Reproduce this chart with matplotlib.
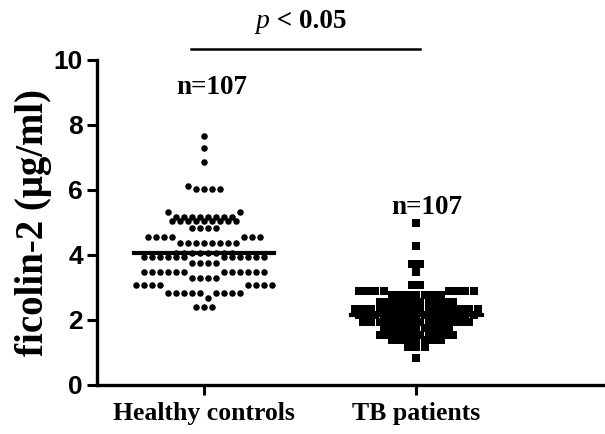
import numpy as np
import matplotlib
matplotlib.use('Agg')
import matplotlib.pyplot as plt

# 数据 (从图中读取: 每一行的数值和点数)
groups = ['Healthy controls', 'TB patients']
n_labels = ['n=107', 'n=107']

healthy_levels = [2.41, 2.67, 2.84, 3.08, 3.29, 3.49, 3.75, 3.95, 4.05, 4.37, 4.56,
                  4.83, 5.03, 5.18, 5.33, 6.02, 6.12, 6.87, 7.3, 7.67]
healthy_counts = [3, 1, 9, 8, 4, 12, 4, 12, 8, 8, 7,
                  4, 9, 8, 2, 4, 1, 1, 1, 1]
# 同一横排的分组 (布局用)
healthy_rows = [0, 1, 1, 1, 2, 2, 3, 3, 4, 5, 5,
                6, 7, 8, 8, 9, 9, 10, 11, 12]

tb_levels = [0.83, 1.17, 1.38, 1.55, 1.75, 1.95, 2.15, 2.35, 2.55, 2.78, 2.88,
             3.08, 3.49, 3.72, 4.26, 4.99]
tb_counts = [1, 3, 7, 10, 9, 14, 15, 16, 10, 7, 8,
             2, 1, 2, 1, 1]
tb_rows = [0, 1, 2, 3, 4, 5, 6, 7, 8, 9, 9,
           10, 11, 12, 13, 14]

healthy = np.repeat(healthy_levels, healthy_counts)
tb = np.repeat(tb_levels, tb_counts)

fig = plt.figure(figsize=(6.05, 4.34), dpi=100)
ax = fig.add_axes([0.160, 0.113, 0.837, 0.749])

serif = 'Liberation Serif'
sans = 'Liberation Sans'


def swarm(levels, counts, rows, xc, step):
    # 每排从中间往两边放, 小的值在中间
    xs, ys = [], []
    for r in sorted(set(rows)):
        vals = []
        for v, c, rr in zip(levels, counts, rows):
            if rr == r:
                vals += [v] * c
        vals.sort()
        n = len(vals)
        pos = (np.arange(n) - (n - 1) / 2.0) * step
        pos = pos[np.lexsort((-pos, np.round(np.abs(pos), 6)))]
        xs.extend(xc + pos)
        ys.extend(vals)
    return np.array(xs), np.array(ys)


hx, hy = swarm(healthy_levels, healthy_counts, healthy_rows, 0, 0.0377)
tx, ty = swarm(tb_levels, tb_counts, tb_rows, 1, 0.0385)
ax.scatter(hx, hy, s=22, marker='o', color='black', linewidths=0, clip_on=False, zorder=3)
ax.scatter(tx, ty, s=27, marker='s', color='black', linewidths=0, clip_on=False, zorder=3)

# 中位数线
ax.plot([-0.33, 0.33], [np.median(healthy)] * 2, color='black', lw=3, zorder=4)
ax.plot([1 - 0.31, 1 + 0.31], [np.median(tb)] * 2, color='black', lw=3, zorder=4)

ax.set_xlim(-0.505, 1.88)
ax.set_ylim(0, 10)
ax.set_yticks([0, 2, 4, 6, 8, 10])
ax.set_xticks([0, 1])
ax.set_xticklabels(groups, fontfamily=serif, fontweight='bold', fontsize=18.5)
for t in ax.get_yticklabels():
    t.set_fontfamily(sans)
    t.set_fontweight('bold')
    t.set_fontsize(19)
ax.tick_params(axis='both', direction='out', length=7, width=2.2)
ax.tick_params(axis='y', pad=3)
ax.tick_params(axis='x', pad=5)
for s in ['top', 'right']:
    ax.spines[s].set_visible(False)
for s in ['left', 'bottom']:
    ax.spines[s].set_linewidth(2.4)

ax.set_ylabel('ficolin-2 (μg/ml)', fontfamily=serif, fontweight='bold', fontsize=28, labelpad=1)

# n 标签
ax.text(0.035, 9.15, n_labels[0], ha='center', va='center', fontfamily=serif, fontweight='bold', fontsize=19.5)
ax.text(1.05, 5.45, n_labels[1], ha='center', va='center', fontfamily=serif, fontweight='bold', fontsize=19.5)

# 显著性
ax.plot([-0.06, 1.015], [10.35, 10.35], color='black', lw=1.8, clip_on=False)
ax.text(0.31, 11.17, 'p', ha='right', va='center', fontfamily=serif, fontstyle='italic', fontsize=20)
ax.text(0.31, 11.17, ' < 0.05', ha='left', va='center', fontfamily=serif, fontweight='bold', fontsize=19.5)

fig.savefig('out.png', dpi=100)
